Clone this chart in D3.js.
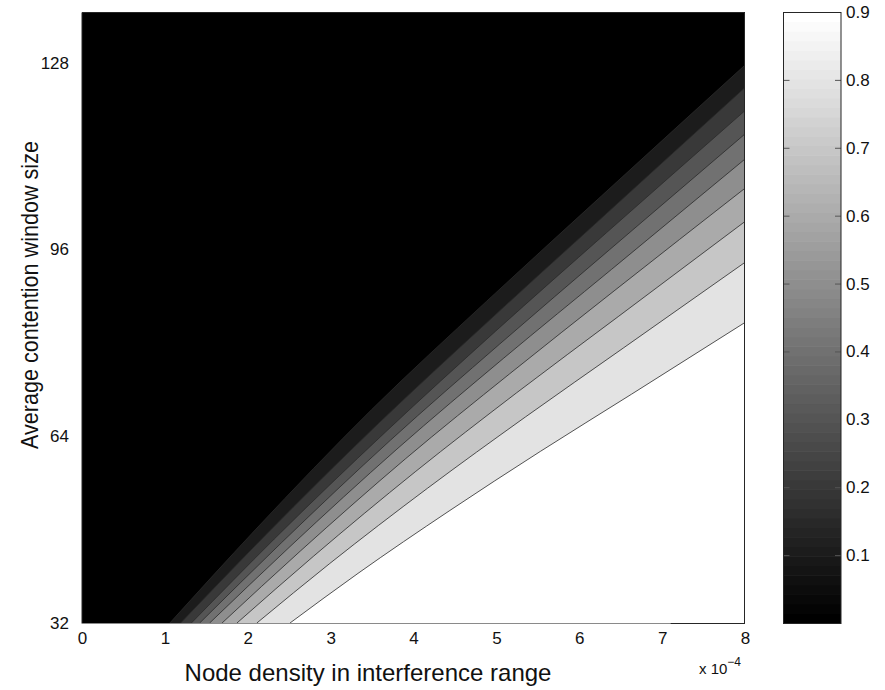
<!DOCTYPE html>
<html>
<head>
<meta charset="UTF-8">
<title>Contention window contour</title>
<style>
  body { margin: 0; background: #fff; }
  svg text { font-family: "Liberation Sans", Arial, sans-serif; fill: #111; }
</style>
</head>
<body>
<svg id="chart" width="885" height="690"></svg>
<script src="https://d3js.org/d3.v7.min.js"></script>
<script>

// axis ticks
var xTicks = [0, 1, 2, 3, 4, 5, 6, 7, 8]
var yTicks = [32, 64, 96, 128]
var cbTicks = [0.1, 0.2, 0.3, 0.4, 0.5, 0.6, 0.7, 0.8, 0.9]

// contour levels and the points of each level line
// [node density (x 1e-4), contention window]
var levels = [0.1, 0.2, 0.3, 0.4, 0.5, 0.6, 0.7, 0.8, 0.9]
var contourLines = [
  [[1.06, 32], [2.10, 48.1], [3.49, 68.5], [4.88, 87.1], [6.27, 105.2], [8, 127.6]],
  [[1.19, 32], [2.21, 47.0], [3.57, 66.1], [4.94, 84.2], [6.30, 101.8], [8, 123.75]],
  [[1.32, 32], [2.32, 46.4], [3.66, 64.7], [4.99, 82.0], [6.33, 98.9], [8, 119.8]],
  [[1.42, 32], [2.41, 45.8], [3.72, 63.3], [5.04, 79.8], [6.36, 95.9], [8, 115.8]],
  [[1.54, 32], [2.51, 45.1], [3.80, 61.8], [5.09, 77.4], [6.39, 92.6], [8, 111.5]],
  [[1.69, 32], [2.64, 44.4], [3.90, 60.1], [5.16, 74.7], [6.42, 88.9], [8, 106.5]],
  [[1.87, 32], [2.79, 43.4], [4.02, 57.9], [5.24, 71.4], [6.47, 84.5], [8, 100.8]],
  [[2.11, 32], [2.99, 42.2], [4.17, 55.1], [5.35, 67.3], [6.53, 79.1], [8, 93.8]],
  [[2.51, 32], [3.33, 40.5], [4.43, 51.2], [5.53, 61.4], [6.63, 71.2], [8, 83.5]]
]

var xDomain = [0, 8]
var yDomain = [32, 136.7]
var cbDomain = [0, 0.9]
var nColors = 64

var svg = d3.select("#chart")

var x = d3.scaleLinear().domain(xDomain).range([82, 745])
var y = d3.scaleLinear().domain(yDomain).range([623, 12])
var cb = d3.scaleLinear().domain(cbDomain).range([623, 12])

// matlab style gray(64) lookup
function grayOf(v) {
    var i = Math.min(nColors - 1, Math.floor((v - cbDomain[0]) / (cbDomain[1] - cbDomain[0]) * nColors))
    var g = Math.round(i / (nColors - 1) * 255)
    return d3.rgb(g, g, g).toString()
}

// background = lowest level colour
svg.append("rect")
    .attr("x", x(xDomain[0]))
    .attr("y", y(yDomain[1]))
    .attr("width", x(xDomain[1]) - x(xDomain[0]))
    .attr("height", y(yDomain[0]) - y(yDomain[1]))
    .attr("fill", grayOf(0))

var area = d3.area()
    .x(d => x(d[0]))
    .y0(y(yDomain[0]))
    .y1(d => y(d[1]))
    .curve(d3.curveMonotoneX)

var line = d3.line()
    .x(d => x(d[0]))
    .y(d => y(d[1]))
    .curve(d3.curveMonotoneX)

// filled bands, painted from low to high
svg.append("g")
    .selectAll("path")
    .data(contourLines)
    .enter()
    .append("path")
    .attr("d", area)
    .attr("fill", (d, i) => grayOf(levels[i]))

// contour lines
svg.append("g")
    .selectAll("path")
    .data(contourLines)
    .enter()
    .append("path")
    .attr("d", line)
    .attr("fill", "none")
    .attr("stroke", "#2a2a2a")
    .attr("stroke-width", 0.8)

// axes frame
var frame = svg.append("g").attr("fill", "none")
frame.append("path")
    .attr("d", "M" + x(0) + "," + (y(32) + 0.5) + "V" + (y(yDomain[1]) + 0.5) + "H" + (x(8) - 0.5) + "V" + (y(32) + 0.5))
    .attr("stroke", "#262626")
frame.append("line")
    .attr("x1", x(0)).attr("x2", x(7.1))
    .attr("y1", y(32) + 0.5).attr("y2", y(32) + 0.5)
    .attr("stroke", "#8a8a8a")
frame.append("line")
    .attr("x1", x(7.1)).attr("x2", x(8))
    .attr("y1", y(32) + 0.5).attr("y2", y(32) + 0.5)
    .attr("stroke", "#262626")

// tick labels
var xAxis = svg.append("g")
    .attr("transform", "translate(0," + y(32) + ")")
    .call(d3.axisBottom(x).tickValues(xTicks).tickSize(0).tickPadding(9).tickFormat(d3.format("d")))
xAxis.select(".domain").remove()
xAxis.selectAll("text").attr("font-size", 17).attr("fill", "#111")

var yAxis = svg.append("g")
    .attr("transform", "translate(" + x(0) + ",0)")
    .call(d3.axisLeft(y).tickValues(yTicks).tickSize(0).tickPadding(13).tickFormat(d3.format("d")))
yAxis.select(".domain").remove()
yAxis.selectAll("text").attr("font-size", 17).attr("fill", "#111")

// axis titles
svg.append("text")
    .attr("x", 368)
    .attr("y", 681)
    .attr("text-anchor", "middle")
    .attr("font-size", 24)
    .text("Node density in interference range")

// picture looks stretched sideways, so the rotated title is thinner and wider
svg.append("text")
    .attr("transform", "translate(38,295) scale(1.11,1) rotate(-90)")
    .attr("text-anchor", "middle")
    .attr("font-size", 21.6)
    .text("Average contention window size")

// exponent label
var expo = svg.append("text")
    .attr("x", 699)
    .attr("y", 674)
    .attr("font-size", 15)
expo.append("tspan").text("x 10")
expo.append("tspan").attr("font-size", 12).attr("dy", -8).text("\u22124")

// colorbar
var cbX0 = 783.5, cbX1 = 841
var cbStep = (cbDomain[1] - cbDomain[0]) / nColors
svg.append("g")
    .selectAll("rect")
    .data(d3.range(nColors))
    .enter()
    .append("rect")
    .attr("x", cbX0)
    .attr("width", cbX1 - cbX0)
    .attr("y", d => cb(cbDomain[0] + (d + 1) * cbStep))
    .attr("height", d => cb(cbDomain[0] + d * cbStep) - cb(cbDomain[0] + (d + 1) * cbStep) + 0.6)
    .attr("fill", d => { var g = Math.round(d / (nColors - 1) * 255); return d3.rgb(g, g, g).toString() })

var cbRight = svg.append("g")
    .attr("transform", "translate(" + cbX1 + ",0)")
    .call(d3.axisRight(cb).tickValues(cbTicks).tickSize(-6).tickPadding(5).tickFormat(d3.format(".1f")))
cbRight.select(".domain").remove()
cbRight.selectAll("line").attr("stroke", "#555")
cbRight.selectAll("text").attr("font-size", 17).attr("fill", "#111")

var cbLeft = svg.append("g")
    .attr("transform", "translate(" + cbX0 + ",0)")
    .call(d3.axisLeft(cb).tickValues(cbTicks).tickSize(-6).tickFormat(""))
cbLeft.select(".domain").remove()
cbLeft.selectAll("line").attr("stroke", "#555")

svg.append("rect")
    .attr("x", cbX0)
    .attr("y", cb(cbDomain[1]) + 0.5)
    .attr("width", cbX1 - cbX0)
    .attr("height", cb(cbDomain[0]) - cb(cbDomain[1]))
    .attr("fill", "none")
    .attr("stroke", "#262626")

</script>
</body>
</html>
